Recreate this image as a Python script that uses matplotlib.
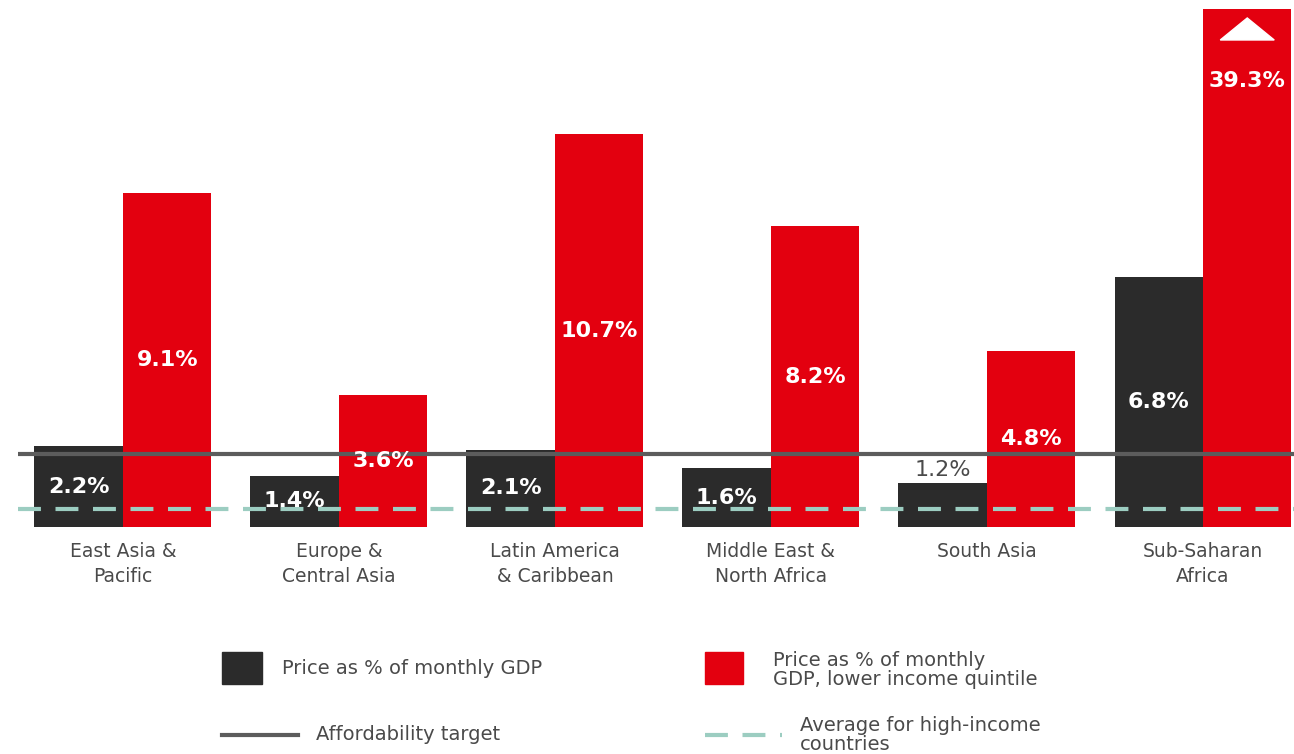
import matplotlib.pyplot as plt
from matplotlib.patches import Polygon, Rectangle
from matplotlib.lines import Line2D

# Broadband price by region, % of monthly GDP per capita
regions = ["East Asia &\nPacific", "Europe &\nCentral Asia", "Latin America\n& Caribbean",
           "Middle East &\nNorth Africa", "South Asia", "Sub-Saharan\nAfrica"]
price_gdp = [2.2, 1.4, 2.1, 1.6, 1.2, 6.8]
price_low_quintile = [9.1, 3.6, 10.7, 8.2, 4.8, 39.3]
affordability_target = 2.0
high_income_avg = 0.5

DARK = "#2b2b2b"
RED = "#e3000f"
GREY = "#5c5c5c"
TEAL = "#9ccdc1"
TXT = "#4a4a4a"

W, H = 1294, 754
fig = plt.figure(figsize=(W / 100, H / 100), dpi=100)

# main axes: baseline at 527px from top, 36.7px per percent
base_px, top_px, px_pct, group_px = 527, 9, 36.7, 216
ax = fig.add_axes([0, (H - base_px) / H, 1, (base_px - top_px) / H])
ax.set_xlim(-123 / group_px, (W - 123) / group_px)
ymax = (base_px - top_px) / px_pct
ax.set_ylim(0, ymax)
ax.axis("off")

bw = 88.5 / group_px
xs = list(range(len(regions)))
ax.bar([x - bw / 2 for x in xs], price_gdp, width=bw, color=DARK, zorder=2)
ax.bar([x + bw / 2 for x in xs], price_low_quintile, width=bw, color=RED, zorder=2)

# reference lines
x_start = -105 / group_px
ax.hlines(affordability_target, x_start, ax.get_xlim()[1], color=GREY, lw=3, zorder=3)
ax.hlines(high_income_avg, x_start, ax.get_xlim()[1], color=TEAL, lw=3,
          linestyles=(0, (5.5, 3.5)), zorder=3)

lab_kw = dict(ha="center", va="center", fontsize=16, fontweight="semibold", zorder=4)
for i, (d, r) in enumerate(zip(price_gdp, price_low_quintile)):
    if d < 1.3:
        ax.text(i - bw / 2, d + 0.35, f"{d}%", color=TXT, fontsize=16, ha="center",
                va="center", zorder=4)
    else:
        ax.text(i - bw / 2, d / 2, f"{d}%", color="white", **lab_kw)
    if r > ymax:
        # bar runs off the chart: mark it with an arrow head
        ax.text(i + bw / 2, 12.15, f"{r}%", color="white", **lab_kw)
        tri = Polygon([[i + bw / 2 - 0.125, 13.27], [i + bw / 2 + 0.125, 13.27],
                       [i + bw / 2, 13.87]], closed=True, color="white", zorder=4)
        ax.add_patch(tri)
    else:
        ax.text(i + bw / 2, r / 2, f"{r}%", color="white", **lab_kw)

for i, name in enumerate(regions):
    ax.text(i, -0.42, name, ha="center", va="top", fontsize=13.5, color=TXT,
            linespacing=1.35, clip_on=False)

# legend drawn in pixel space
lg = fig.add_axes([0, 0, 1, 1], zorder=-1)
lg.set_xlim(0, W)
lg.set_ylim(H, 0)
lg.axis("off")
lg.add_patch(Rectangle((222, 652), 40, 32, color=DARK))
lg.text(282, 668, "Price as % of monthly GDP", va="center", fontsize=14, color=TXT)
lg.add_patch(Rectangle((705, 652), 38, 32, color=RED))
lg.text(773, 670, "Price as % of monthly\nGDP, lower income quintile", va="center",
        fontsize=14, color=TXT, linespacing=0.95)
lg.add_line(Line2D([222, 298], [735, 735], color=GREY, lw=3))
lg.text(316, 735, "Affordability target", va="center", fontsize=14, color=TXT)
lg.add_line(Line2D([705, 782], [735, 735], color=TEAL, lw=3, ls=(0, (5.5, 3.5))))
lg.text(800, 735, "Average for high-income\ncountries", va="center", fontsize=14,
        color=TXT, linespacing=0.95)

fig.savefig("out.png", dpi=100)
